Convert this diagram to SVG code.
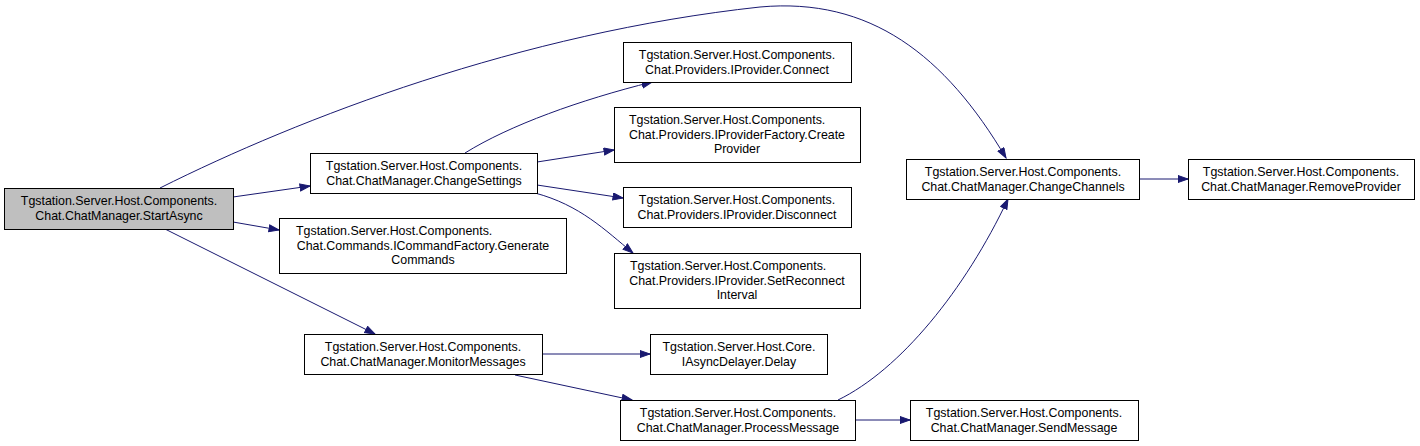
<svg xmlns="http://www.w3.org/2000/svg" width="1420" height="446" viewBox="0 0 1420 446">
<style>
.n rect{fill:#ffffff;stroke:#000000;stroke-width:1}
.n.cur rect{fill:#bfbfbf}
.n text{font-family:"Liberation Sans",Arial,sans-serif;font-size:12.4px;fill:#000000;text-anchor:middle}
.n text.s{text-anchor:start}
.e path{fill:none;stroke:#191970;stroke-width:1}
</style>
<defs>
<marker id="ah" markerUnits="userSpaceOnUse" markerWidth="12" markerHeight="9" refX="10.5" refY="4" orient="auto">
<path d="M0.5,0.5 L10.5,4 L0.5,7.5 z" fill="#191970" stroke="#191970"/>
</marker>
</defs>
<rect width="1420" height="446" fill="#ffffff"/>
<g id="edges" class="e">
<path d="M233,197 L310,186" marker-end="url(#ah)"/>
<path d="M233,222 L279,230" marker-end="url(#ah)"/>
<path d="M165,229 L375,334" marker-end="url(#ah)"/>
<path d="M160,188 C300,118 520,33 760,7 C870,-3 945,55 1006,158" marker-end="url(#ah)"/>
<path d="M465,153 C510,125 580,100 652,82" marker-end="url(#ah)"/>
<path d="M537,162 L614,150" marker-end="url(#ah)"/>
<path d="M537,185 L623,198" marker-end="url(#ah)"/>
<path d="M535,193 C580,205 605,230 633,253" marker-end="url(#ah)"/>
<path d="M542,354 L650,354" marker-end="url(#ah)"/>
<path d="M515,375 L632,400" marker-end="url(#ah)"/>
<path d="M838,400 C900,370 965,290 1008,199" marker-end="url(#ah)"/>
<path d="M855,420 L910,420" marker-end="url(#ah)"/>
<path d="M1139,179 L1188,179" marker-end="url(#ah)"/>
</g>
<g id="StartAsync" class="n cur">
<rect x="4.5" y="188.5" width="229" height="41"/>
<text x="119" y="205">Tgstation.Server.Host.Components.</text>
<text x="119" y="219.7">Chat.ChatManager.StartAsync</text>
</g>
<g id="ChangeSettings" class="n">
<rect x="310.5" y="153.5" width="227" height="40"/>
<text x="424" y="170">Tgstation.Server.Host.Components.</text>
<text x="424" y="184.7">Chat.ChatManager.ChangeSettings</text>
</g>
<g id="GenerateCommands" class="n">
<rect x="279.5" y="218.5" width="287" height="55"/>
<text class="s" x="296" y="235">Tgstation.Server.Host.Components.</text>
<text x="423" y="249.7">Chat.Commands.ICommandFactory.Generate</text>
<text x="423" y="264.3">Commands</text>
</g>
<g id="Connect" class="n">
<rect x="623.5" y="42.5" width="228" height="40"/>
<text x="737" y="59">Tgstation.Server.Host.Components.</text>
<text x="737" y="73.7">Chat.Providers.IProvider.Connect</text>
</g>
<g id="CreateProvider" class="n">
<rect x="614.5" y="107.5" width="246" height="55"/>
<text class="s" x="629" y="124">Tgstation.Server.Host.Components.</text>
<text x="737" y="138.7">Chat.Providers.IProviderFactory.Create</text>
<text x="737" y="153.3">Provider</text>
</g>
<g id="Disconnect" class="n">
<rect x="623.5" y="187.5" width="228" height="40"/>
<text x="737" y="204">Tgstation.Server.Host.Components.</text>
<text x="737" y="218.7">Chat.Providers.IProvider.Disconnect</text>
</g>
<g id="SetReconnectInterval" class="n">
<rect x="614.5" y="253.5" width="246" height="55"/>
<text class="s" x="630" y="270">Tgstation.Server.Host.Components.</text>
<text x="737" y="284.7">Chat.Providers.IProvider.SetReconnect</text>
<text x="737" y="299.3">Interval</text>
</g>
<g id="ChangeChannels" class="n">
<rect x="906.5" y="159.5" width="233" height="40"/>
<text x="1023" y="176">Tgstation.Server.Host.Components.</text>
<text x="1023" y="190.7">Chat.ChatManager.ChangeChannels</text>
</g>
<g id="RemoveProvider" class="n">
<rect x="1188.5" y="159.5" width="226" height="40"/>
<text x="1301" y="176">Tgstation.Server.Host.Components.</text>
<text x="1301" y="190.7">Chat.ChatManager.RemoveProvider</text>
</g>
<g id="MonitorMessages" class="n">
<rect x="304.5" y="334.5" width="238" height="40"/>
<text x="423" y="351">Tgstation.Server.Host.Components.</text>
<text x="423" y="365.7">Chat.ChatManager.MonitorMessages</text>
</g>
<g id="Delay" class="n">
<rect x="650.5" y="334.5" width="177" height="40"/>
<text x="739" y="351">Tgstation.Server.Host.Core.</text>
<text x="739" y="365.7">IAsyncDelayer.Delay</text>
</g>
<g id="ProcessMessage" class="n">
<rect x="620.5" y="400.5" width="235" height="40"/>
<text x="738" y="417">Tgstation.Server.Host.Components.</text>
<text x="738" y="431.7">Chat.ChatManager.ProcessMessage</text>
</g>
<g id="SendMessage" class="n">
<rect x="910.5" y="400.5" width="228" height="40"/>
<text x="1024" y="417">Tgstation.Server.Host.Components.</text>
<text x="1024" y="431.7">Chat.ChatManager.SendMessage</text>
</g>
</svg>
